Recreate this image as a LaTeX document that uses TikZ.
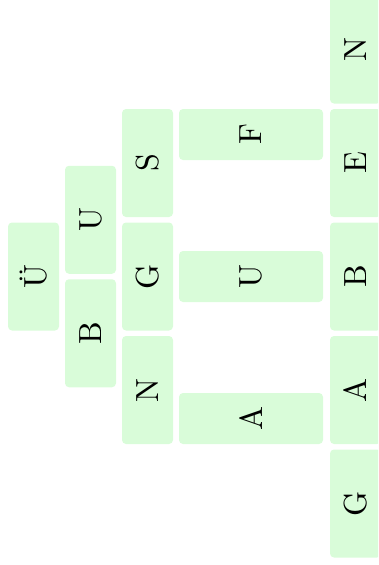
\documentclass[tikz,border=0pt]{standalone}
\usepackage{fontspec}
\newfontfamily\cellfont{lmroman10-regular.otf}
\definecolor{boxfill}{RGB}{217,252,217}
\tikzset{
  cell/.style={fill=boxfill, rounded corners=4pt, rotate=90, inner sep=0pt,
    font=\cellfont\fontsize{32}{32}\selectfont, minimum width=108pt, minimum height=51pt},
  wide/.style={cell, minimum width=51pt, minimum height=144pt}
}
\begin{document}
\begin{tikzpicture}[x=1pt,y=-1pt]
\useasboundingbox (0,0) rectangle (378,565);
\clip (0,0) rectangle (378,565);
% column 1
\node[cell] (c1) at (33.5,276.5) {Ü};
% column 2
\node[cell] (c2a) at (90.5,219.75) {U};
\node[cell] (c2b) at (90.5,333.25) {B};
% column 3
\node[cell] (c3a) at (147.5,163) {S};
\node[cell] (c3b) at (147.5,276.5) {G};
\node[cell] (c3c) at (147.5,390) {N};
% column 4
\node[wide] (c4a) at (251,134.5) {F};
\node[wide] (c4b) at (251,276.5) {U};
\node[wide] (c4c) at (251,418.5) {A};
% column 5
\node[cell] (c5a) at (355.5,49.5) {N};
\node[cell] (c5b) at (355.5,163) {E};
\node[cell] (c5c) at (355.5,276.5) {B};
\node[cell] (c5d) at (355.5,390) {A};
\node[cell] (c5e) at (355.5,503.5) {G};
\end{tikzpicture}
\end{document}
